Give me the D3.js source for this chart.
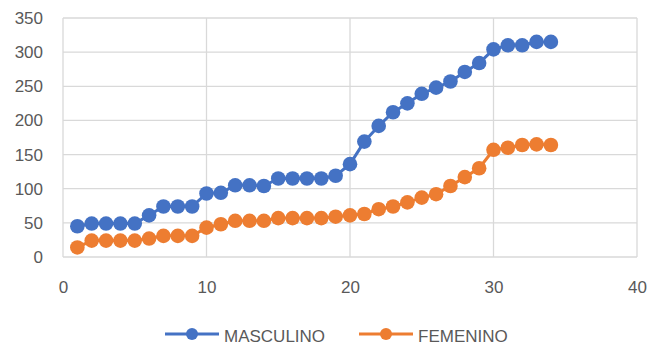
<!DOCTYPE html>
<html>
<head>
<meta charset="utf-8">
<script src="https://cdn.jsdelivr.net/npm/d3@7"></script>
<style>
  body { margin: 0; background: #fff; }
  svg { display: block; font-family: "Liberation Sans", Arial, sans-serif; }
  .tick text { fill: #595959; font-size: 17px; }
</style>
</head>
<body>
<svg id="chart" width="660" height="347"></svg>
<script>
// x positions 1..34
const xValues = d3.range(1, 35);
const masculino = [45, 49, 49, 49, 49, 61, 74, 74, 74, 93, 94, 105, 105, 104, 115, 115, 115, 115, 119, 136,
  169, 192, 212, 225, 239, 248, 257, 271, 284, 304, 310, 310, 315, 315];
const femenino = [14, 24, 24, 24, 24, 27, 31, 31, 31, 43, 48, 53, 53, 53, 57, 57, 57, 57, 59, 61,
  63, 70, 74, 80, 87, 92, 104, 117, 130, 157, 160, 164, 165, 164];
const series = [
  { name: "MASCULINO", values: masculino, color: "#4472C4" },
  { name: "FEMENINO", values: femenino, color: "#ED7D31" },
];
const xTicks = [0, 10, 20, 30, 40];
const yTicks = [0, 50, 100, 150, 200, 250, 300, 350];

const svg = d3.select("#chart");
const margin = { top: 18, right: 23, bottom: 90, left: 63 };
const width = 660, height = 347;

const x = d3.scaleLinear().domain([0, 40]).range([margin.left, width - margin.right]);
const y = d3.scaleLinear().domain([0, 350]).range([height - margin.bottom, margin.top]);

// gridlines
svg.append("g")
  .selectAll("line")
  .data(yTicks)
  .join("line")
  .attr("x1", x(0)).attr("x2", x(40))
  .attr("y1", (d) => y(d)).attr("y2", (d) => y(d))
  .attr("stroke", "#d9d9d9").attr("stroke-width", 1.3);

svg.append("g")
  .selectAll("line")
  .data(xTicks)
  .join("line")
  .attr("y1", y(0)).attr("y2", y(350))
  .attr("x1", (d) => x(d)).attr("x2", (d) => x(d))
  .attr("stroke", "#d9d9d9").attr("stroke-width", 1.3);

// axes (labels only)
const yAxis = svg.append("g")
  .attr("transform", "translate(43,0)")
  .call(d3.axisLeft(y).tickValues(yTicks).tickSize(0).tickPadding(0));
yAxis.select(".domain").remove();

const xAxis = svg.append("g")
  .attr("transform", `translate(0,${y(0) + 18})`)
  .call(d3.axisBottom(x).tickValues(xTicks).tickSize(0).tickPadding(6));
xAxis.select(".domain").remove();

// lines + markers
const line = d3.line().x((d, i) => x(xValues[i])).y((d) => y(d));

series.forEach((s) => {
  svg.append("path")
    .datum(s.values)
    .attr("fill", "none")
    .attr("stroke", s.color)
    .attr("stroke-width", 3)
    .attr("stroke-linejoin", "round")
    .attr("d", line);

  svg.append("g")
    .selectAll("circle")
    .data(s.values)
    .join("circle")
    .attr("cx", (d, i) => x(xValues[i]))
    .attr("cy", (d) => y(d))
    .attr("r", 7.3)
    .attr("fill", s.color);
});

// legend
const legendY = 334;
const legendX = [165, 359];
series.forEach((s, i) => {
  const g = svg.append("g").attr("transform", `translate(${legendX[i]},${legendY})`);
  g.append("line").attr("x1", 0).attr("x2", 54).attr("stroke", s.color).attr("stroke-width", 3);
  g.append("circle").attr("cx", 27).attr("r", 6).attr("fill", s.color);
  g.append("text")
    .attr("x", 59)
    .attr("y", 2)
    .attr("dy", "0.35em")
    .attr("fill", "#595959")
    .style("font-size", "17px")
    .text(s.name);
});
</script>
</body>
</html>
